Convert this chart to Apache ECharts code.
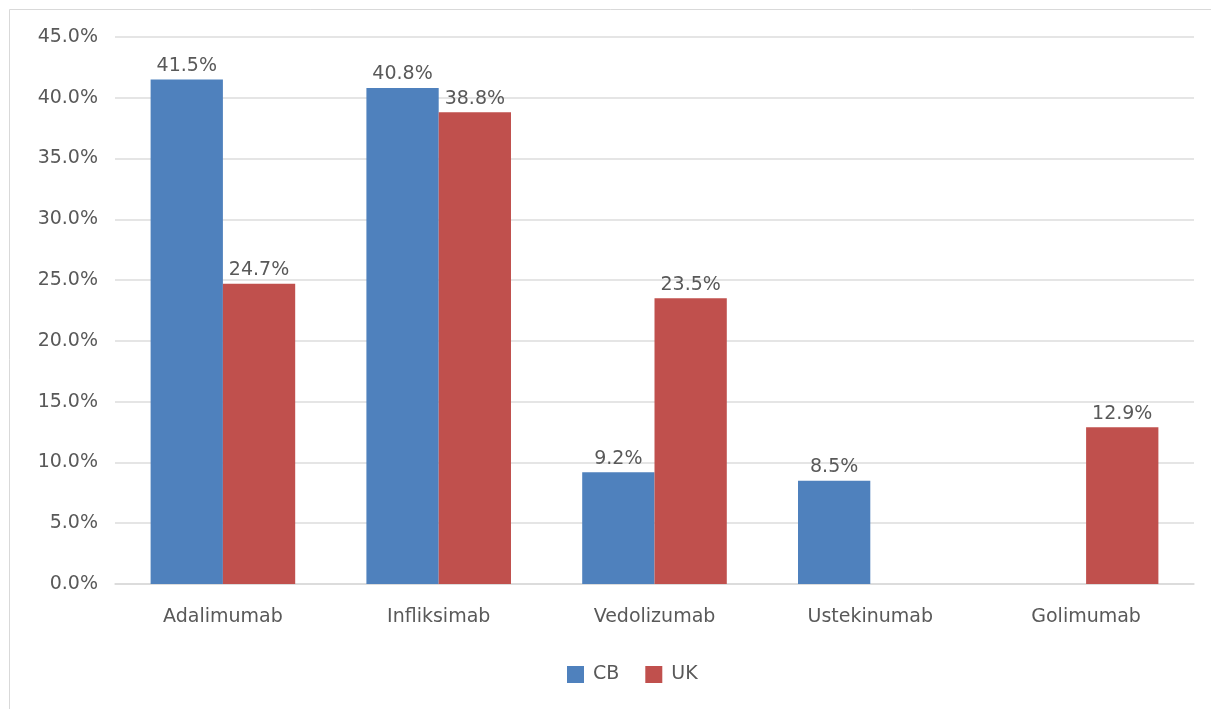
<!DOCTYPE html>
<html>
<head>
<meta charset="utf-8">
<script src="https://cdn.jsdelivr.net/npm/echarts@6/dist/echarts.min.js"></script>
<style>
  html, body { margin: 0; padding: 0; background: #fff; }
  #chart { width: 1211px; height: 709px; }
</style>
</head>
<body>
<div id="chart"></div>
<script>
// Biologic therapy shares by drug, two patient groups
const categories = ['Adalimumab', 'Infliksimab', 'Vedolizumab', 'Ustekinumab', 'Golimumab'];
const cbValues = [41.5, 40.8, 9.2, 8.5, null];
const ukValues = [24.7, 38.8, 23.5, null, 12.9];
const seriesNames = ['CB', 'UK'];

const textColor = '#595959';
const fontFamily = 'DejaVu Sans, sans-serif';
const fontSize = 19;

const chart = echarts.init(document.getElementById('chart'));

const valueLabel = {
  show: true,
  position: 'top',
  distance: 4,
  color: textColor,
  fontFamily: fontFamily,
  fontSize: fontSize,
  formatter: p => p.value == null ? '' : p.value.toFixed(1) + '%'
};

chart.setOption({
  animation: false,
  backgroundColor: '#fff',
  graphic: [{
    type: 'rect',
    shape: { x: 9.5, y: 9.5, width: 1230, height: 720 },
    style: { fill: 'none', stroke: '#d9d9d9', lineWidth: 1 },
    silent: true,
    z: -1
  }],
  grid: { left: 115, right: 17, top: 37, bottom: 125 },
  legend: {
    data: seriesNames,
    top: 660,
    left: 562,
    itemWidth: 17,
    itemHeight: 17,
    itemGap: 26,
    icon: 'rect',
    textStyle: { color: textColor, fontFamily: fontFamily, fontSize: fontSize, padding: [0, 0, 0, 4] }
  },
  xAxis: {
    type: 'category',
    data: categories,
    axisLine: { lineStyle: { color: '#d9d9d9', width: 1.5 } },
    axisTick: { show: false },
    axisLabel: { color: textColor, fontFamily: fontFamily, fontSize: fontSize, margin: 24 }
  },
  yAxis: {
    type: 'value',
    min: 0,
    max: 45,
    interval: 5,
    axisLine: { show: false },
    axisTick: { show: false },
    splitLine: { lineStyle: { color: '#dcdcdc', width: 1.5 } },
    axisLabel: {
      color: textColor,
      fontFamily: fontFamily,
      fontSize: fontSize,
      margin: 17,
      formatter: v => v.toFixed(1) + '%'
    }
  },
  series: [
    {
      name: seriesNames[0],
      type: 'bar',
      data: cbValues,
      barGap: '0%',
      barCategoryGap: '33%',
      itemStyle: { color: '#4f81bd' },
      label: valueLabel
    },
    {
      name: seriesNames[1],
      type: 'bar',
      data: ukValues,
      itemStyle: { color: '#c0504d' },
      label: valueLabel
    }
  ]
});
</script>
</body>
</html>
